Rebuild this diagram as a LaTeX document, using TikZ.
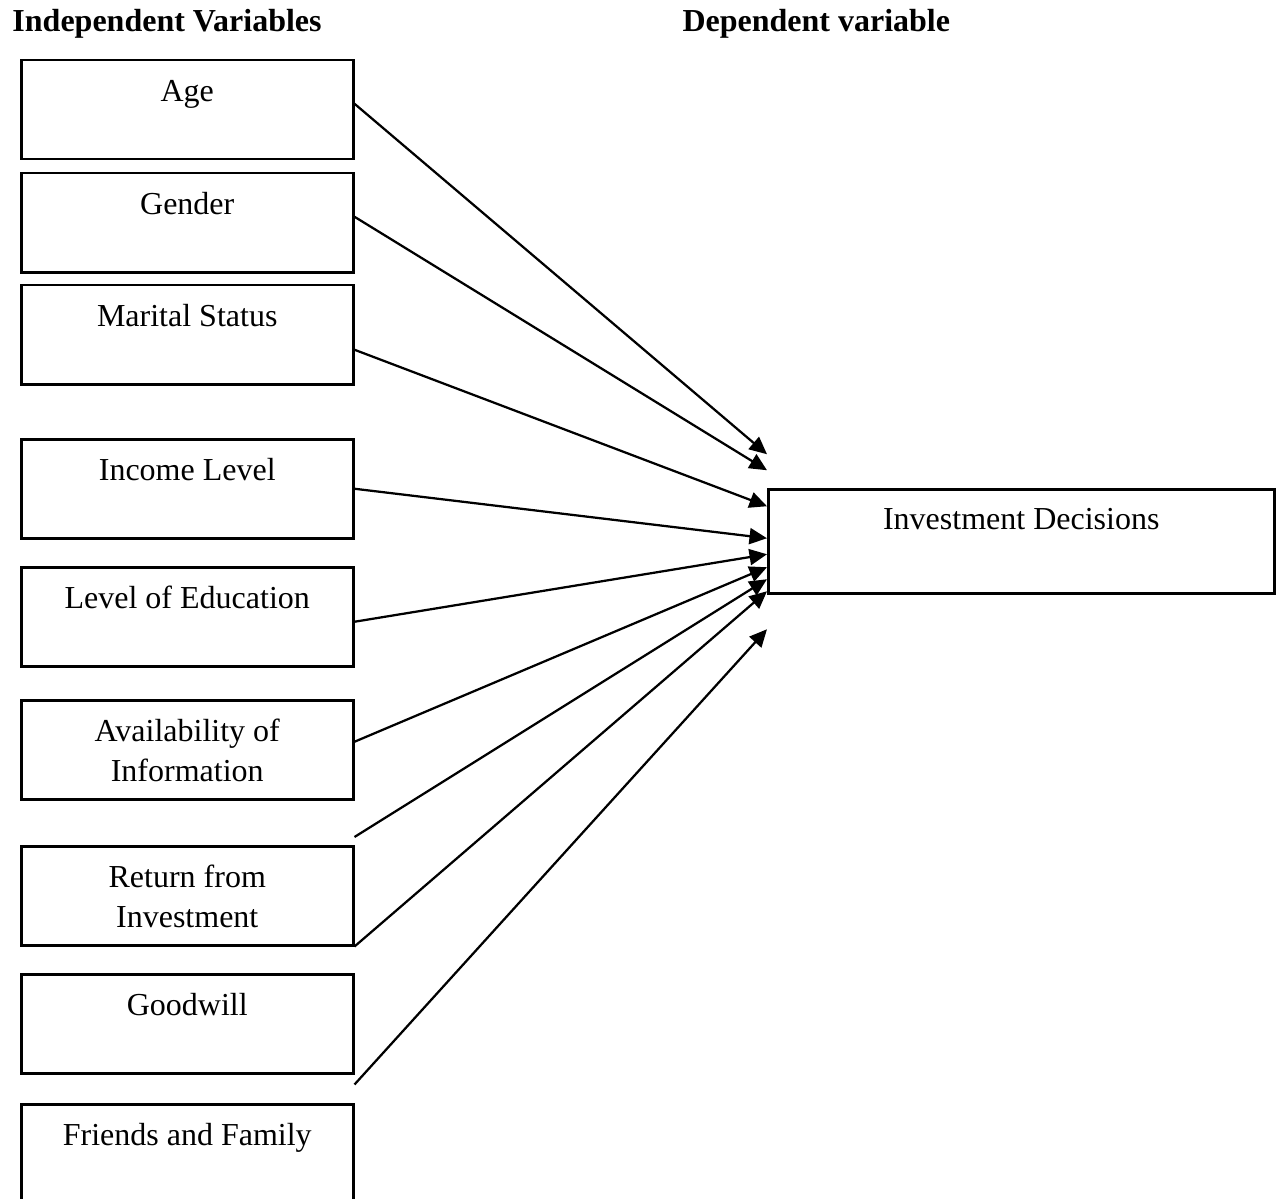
\documentclass[tikz,border=0pt]{standalone}
\usepackage{fontspec}
\setmainfont{Liberation Serif}
\usetikzlibrary{arrows.meta}
\begin{document}
\begin{tikzpicture}[x=0.4pt,y=-0.4pt]
\tikzstyle{every node}=[font=\fontsize{12.8}{16}\selectfont];
\tikzstyle{var}=[draw,line width=1pt,anchor=north west,minimum width=132.8pt,minimum height=39.6pt,inner sep=0pt,text height=16.4pt,text depth=23.2pt,align=center];
\tikzstyle{twoline}=[text height=32.4pt,text depth=7.2pt];
\tikzstyle{head}=[anchor=base west,inner sep=0pt,font=\fontsize{12.8}{16}\selectfont\bfseries];

\useasboundingbox (0,0) rectangle (1282,1199);

  \node[head] (ih) at (12,32) {Independent Variables};
  \node[head] (dh) at (682,32) {Dependent variable};

  \node[var] (age) at (20,59) {Age};
  \node[var] (gen) at (20,172) {Gender};
  \node[var] (mar) at (20,284) {Marital Status};
  \node[var] (inc) at (20,438) {Income Level};
  \node[var] (edu) at (20,566) {Level of Education};
  \node[var,twoline] (ava) at (20,699) {Availability of\\Information};
  \node[var,twoline] (ret) at (20,845) {Return from\\Investment};
  \node[var] (good) at (20,973) {Goodwill};
  \node[var] (fam) at (20,1103) {Friends and Family};

  \node[var,minimum width=202.4pt,minimum height=41.6pt,text height=16pt,text depth=25.6pt] (dec) at (767,488) {Investment Decisions};

\foreach \from/\sy/\ty in {age.east/2.4/34.8, gen.east/2.4/28.4, mar.east/-6/14, inc.east/0/1.2, edu.east/-2/-5.2, ava.east/3.2/-10.4, ret.north east/3.2/-15.2, ret.south east/0/-20, good.south east/-4/-35.2}
\draw [-{Triangle[length=7pt,width=6.4pt]},line width=0.9pt] ([yshift=\sy pt]\from) -- ([yshift=\ty pt]dec.west);

\end{tikzpicture}
\end{document}
